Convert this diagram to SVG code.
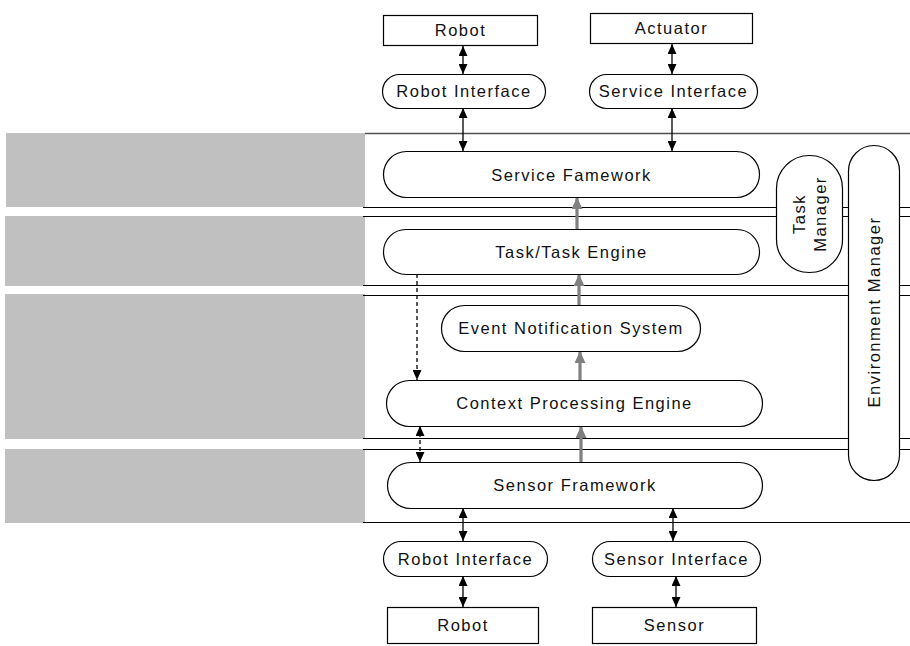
<svg xmlns="http://www.w3.org/2000/svg" width="910" height="646" viewBox="0 0 910 646">
  <defs>
    <style>
      .band { fill: #c0c0c0; }
      .rule { stroke: #000; stroke-width: 1.2; fill: none; }
      .rule-top { stroke: #505050; stroke-width: 1.6; fill: none; }
      .cap { fill: #fff; stroke: #000; stroke-width: 1.2; }
      .box { fill: #fff; stroke: #000; stroke-width: 1.2; }
      .lbl { font-family: "Liberation Sans", Arial, sans-serif; font-size: 16.5px; letter-spacing: 1.5px; fill: #111; text-anchor: middle; }
      .link { stroke: #000; stroke-width: 1.3; fill: none; }
      .dash { stroke: #000; stroke-width: 1.3; fill: none; stroke-dasharray: 4 3; }
      .flow { stroke: #808080; stroke-width: 3.2; fill: none; }
    </style>
    <marker id="ah" markerUnits="userSpaceOnUse" markerWidth="10" markerHeight="9" refX="10" refY="4.5" orient="auto-start-reverse">
      <path d="M0,0 L10,4.5 L0,9 z" fill="#000"/>
    </marker>
    <marker id="gh" markerUnits="userSpaceOnUse" markerWidth="12" markerHeight="11" refX="12" refY="5.5" orient="auto">
      <path d="M0,0 L12,5.5 L0,11 z" fill="#808080"/>
    </marker>
  </defs>

  <!-- layer bands on the left -->
  <g id="bands">
    <rect class="band" x="6" y="133" width="359" height="74"/>
    <rect class="band" x="5" y="216" width="360" height="70"/>
    <rect class="band" x="5" y="294" width="360" height="145"/>
    <rect class="band" x="5" y="449" width="360" height="74"/>
  </g>

  <!-- layer boundary rules -->
  <g id="rules">
    <line class="rule-top" x1="365" y1="133.5" x2="910" y2="133.5"/>
    <line class="rule" x1="363" y1="207.5" x2="910" y2="207.5"/>
    <line class="rule" x1="363" y1="216.5" x2="910" y2="216.5"/>
    <line class="rule" x1="363" y1="285.5" x2="910" y2="285.5"/>
    <line class="rule" x1="363" y1="295.5" x2="910" y2="295.5"/>
    <line class="rule" x1="363" y1="438.5" x2="910" y2="438.5"/>
    <line class="rule" x1="363" y1="449.5" x2="910" y2="449.5"/>
    <line class="rule" x1="363" y1="522.5" x2="910" y2="522.5"/>
  </g>

  <!-- connectors -->
  <g id="connectors">
    <line class="link" x1="463" y1="46" x2="463" y2="74" marker-start="url(#ah)" marker-end="url(#ah)"/>
    <line class="link" x1="672" y1="44" x2="672" y2="74" marker-start="url(#ah)" marker-end="url(#ah)"/>
    <line class="link" x1="463" y1="108" x2="463" y2="151" marker-start="url(#ah)" marker-end="url(#ah)"/>
    <line class="link" x1="672" y1="108" x2="672" y2="151" marker-start="url(#ah)" marker-end="url(#ah)"/>

    <line class="flow" x1="577" y1="229" x2="577" y2="197" marker-end="url(#gh)"/>
    <line class="flow" x1="579" y1="305" x2="579" y2="274" marker-end="url(#gh)"/>
    <line class="flow" x1="580" y1="380" x2="580" y2="351" marker-end="url(#gh)"/>
    <line class="flow" x1="581" y1="462" x2="581" y2="426" marker-end="url(#gh)"/>

    <line class="dash" x1="417" y1="274" x2="417" y2="380" marker-end="url(#ah)"/>
    <line class="dash" x1="420" y1="426" x2="420" y2="462" marker-start="url(#ah)" marker-end="url(#ah)"/>

    <line class="link" x1="463" y1="508" x2="463" y2="541" marker-start="url(#ah)" marker-end="url(#ah)"/>
    <line class="link" x1="673" y1="508" x2="673" y2="541" marker-start="url(#ah)" marker-end="url(#ah)"/>
    <line class="link" x1="463" y1="576" x2="463" y2="607" marker-start="url(#ah)" marker-end="url(#ah)"/>
    <line class="link" x1="676" y1="576" x2="676" y2="607" marker-start="url(#ah)" marker-end="url(#ah)"/>
  </g>

  <!-- devices and interfaces above -->
  <g id="robot-top">
    <rect class="box" x="383.5" y="15.5" width="154" height="30"/>
    <text class="lbl" x="460.5" y="36">Robot</text>
  </g>
  <g id="actuator">
    <rect class="box" x="590.5" y="13.5" width="162" height="30"/>
    <text class="lbl" x="671.5" y="34">Actuator</text>
  </g>
  <g id="robot-interface-top">
    <rect class="cap" x="382.5" y="74.5" width="163" height="34" rx="17"/>
    <text class="lbl" x="464" y="97">Robot Interface</text>
  </g>
  <g id="service-interface">
    <rect class="cap" x="589.5" y="74.5" width="168" height="34" rx="17"/>
    <text class="lbl" x="673.5" y="97">Service Interface</text>
  </g>

  <!-- framework layers -->
  <g id="service-framework">
    <rect class="cap" x="383.5" y="151.5" width="376" height="46" rx="23"/>
    <text class="lbl" x="571.5" y="181">Service Famework</text>
  </g>
  <g id="task-engine">
    <rect class="cap" x="383.5" y="229.5" width="376" height="45" rx="22.5"/>
    <text class="lbl" x="571.5" y="258">Task/Task Engine</text>
  </g>
  <g id="event-notification">
    <rect class="cap" x="441.5" y="305.5" width="259" height="46" rx="23"/>
    <text class="lbl" x="571" y="334">Event Notification System</text>
  </g>
  <g id="context-engine">
    <rect class="cap" x="386.5" y="380.5" width="376" height="46" rx="23"/>
    <text class="lbl" x="574.5" y="409">Context Processing Engine</text>
  </g>
  <g id="sensor-framework">
    <rect class="cap" x="387.5" y="462.5" width="375" height="46" rx="23"/>
    <text class="lbl" x="575" y="491">Sensor Framework</text>
  </g>

  <!-- side managers -->
  <g id="task-manager">
    <rect class="cap" x="776.5" y="155.5" width="66" height="117" rx="33"/>
    <text class="lbl" transform="translate(809.5 214) rotate(-90)"><tspan x="0" y="-5">Task</tspan><tspan x="0" y="16">Manager</tspan></text>
  </g>
  <g id="environment-manager">
    <rect class="cap" x="848.5" y="145.5" width="51" height="335" rx="25.5"/>
    <text class="lbl" transform="translate(874 312) rotate(-90)" y="6">Environment Manager</text>
  </g>

  <!-- interfaces and devices below -->
  <g id="robot-interface-bottom">
    <rect class="cap" x="383.5" y="541.5" width="164" height="35" rx="17.5"/>
    <text class="lbl" x="465.5" y="565">Robot Interface</text>
  </g>
  <g id="sensor-interface">
    <rect class="cap" x="592.5" y="541.5" width="168" height="35" rx="17.5"/>
    <text class="lbl" x="676.5" y="565">Sensor Interface</text>
  </g>
  <g id="robot-bottom">
    <rect class="box" x="387.5" y="607.5" width="151" height="36"/>
    <text class="lbl" x="463" y="631">Robot</text>
  </g>
  <g id="sensor">
    <rect class="box" x="592.5" y="607.5" width="164" height="36"/>
    <text class="lbl" x="674.5" y="631">Sensor</text>
  </g>
</svg>
